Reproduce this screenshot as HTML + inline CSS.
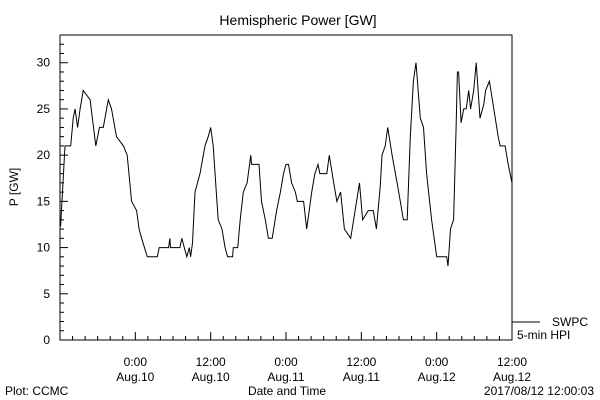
<!DOCTYPE html>
<html><head><meta charset="utf-8"><style>
body{margin:0;background:#fff}
svg{display:block;font-family:"Liberation Sans",sans-serif;font-size:12px}
</style></head><body>
<svg id="chart" width="600" height="400">
<rect width="600" height="400" fill="#fff"/>
<text x="298" y="25" text-anchor="middle" font-size="14">Hemispheric Power [GW]</text>
<text transform="translate(18,187) rotate(-90)" text-anchor="middle">P [GW]</text>
<text x="287" y="395" text-anchor="middle">Date and Time</text>
<text x="5" y="395">Plot: CCMC</text>
<text x="594" y="395" text-anchor="end">2017/08/12 12:00:03</text>
<rect x="60" y="35" width="452" height="305" fill="none" stroke="#000"/>
<g id="axes"></g>
<path id="series" fill="none" stroke="#000" stroke-width="1"/>
<line x1="512" y1="322" x2="540" y2="322" stroke="#000"/>
<text x="588" y="326" text-anchor="end">SWPC</text>
<text x="517" y="339">5-min HPI</text>
</svg>
<script>
const hours=[0.1,0.8,1.7,2.1,2.4,2.8,3.2,3.7,4.8,5.7,6.3,6.9,7.7,8.2,9.0,10.1,10.7,11.4,12.2,12.6,13.0,13.9,15.5,15.8,17.3,17.5,17.6,19.1,19.4,19.8,20.2,20.6,20.8,21.1,21.5,22.3,23.1,23.6,24.0,24.4,24.9,25.2,25.8,26.3,26.7,27.5,27.6,28.3,28.7,29.2,29.8,30.4,30.5,31.7,32.1,32.7,33.2,33.8,34.5,35.1,35.6,36.0,36.4,36.9,37.5,37.8,38.8,39.3,40.1,40.6,41.1,41.4,42.5,42.9,43.6,44.1,44.7,45.3,46.3,47.0,47.7,48.2,49.1,49.9,50.4,51.0,51.3,51.8,52.2,52.9,53.7,54.2,54.7,55.3,55.8,56.3,56.7,57.4,57.9,58.4,59.2,60.0,61.6,61.8,62.2,62.7,63.1,63.3,63.5,63.9,64.3,64.7,65.1,65.4,65.9,66.3,66.9,67.5,67.8,68.4,69.1,69.8,70.1,70.9,71.4,72.0];
const power=[12.3,21,21,24,25,23,25,27,26,21,23,23,26,25,22,21,20,15,14,12,11,9,9,10,10,11,10,10,11,10,9,10,9,10.5,16,18,21,22,23,21,16,13,12,10,9,9,10,10,13,16,17,20,19,19,15,13,11,11,14,16,18,19,19,17,16,15,15,12,16,18,19,18,18,20,17,15,16,12,11,14,17,13,14,14,12,16.6,20,21,23,20,17,15,13,13,22,28,30,24,23,18,13,9,9,8,12,13,23,29,29,23.5,25,25,27,25,27,30,24,25.5,27,28,25,22,21,21,19,17];
const yTicks=[0,5,10,15,20,25,30];
const xTickHours=[12,24,36,48,60,72];
const xTickTimes=["0:00","12:00","0:00","12:00","0:00","12:00"];
const xTickDates=["Aug.10","Aug.10","Aug.11","Aug.11","Aug.12","Aug.12"];
const X0=60,X1=512,Y0=340,Y1=35,HMAX=72,VMAX=33;
const xs=h=>X0+h/HMAX*(X1-X0);
const ys=v=>Y0-v/VMAX*(Y0-Y1);
const NS="http://www.w3.org/2000/svg";
const g=document.getElementById('axes');
function ln(x1,y1,x2,y2){const l=document.createElementNS(NS,'line');l.setAttribute('x1',x1);l.setAttribute('y1',y1);l.setAttribute('x2',x2);l.setAttribute('y2',y2);l.setAttribute('stroke','#000');g.appendChild(l);return l;}
function tx(x,y,s,a){const t=document.createElementNS(NS,'text');t.setAttribute('x',x);t.setAttribute('y',y);t.setAttribute('text-anchor',a);t.textContent=s;g.appendChild(t);return t;}
for(let v=0;v<=VMAX;v++){const y=ys(v);const l=ln(X0,y,X0+(v%5==0?8:4),y);

}
yTicks.forEach(v=>{const t=tx(50,ys(v)+4,String(v),'end');

});
for(let h=0;h<=HMAX;h+=2){const x=xs(h);const l=ln(x,Y0,x,Y0-(h%12==0?8:4));

}
xTickHours.forEach((h,i)=>{const a=tx(xs(h),366,xTickTimes[i],'middle');


const b=tx(xs(h),381,xTickDates[i],'middle');

});
let d='';hours.forEach((h,i)=>{d+=(i?'L':'M')+xs(h).toFixed(1)+','+ys(power[i]).toFixed(1);});
document.getElementById('series').setAttribute('d',d);
</script>
</body></html>
